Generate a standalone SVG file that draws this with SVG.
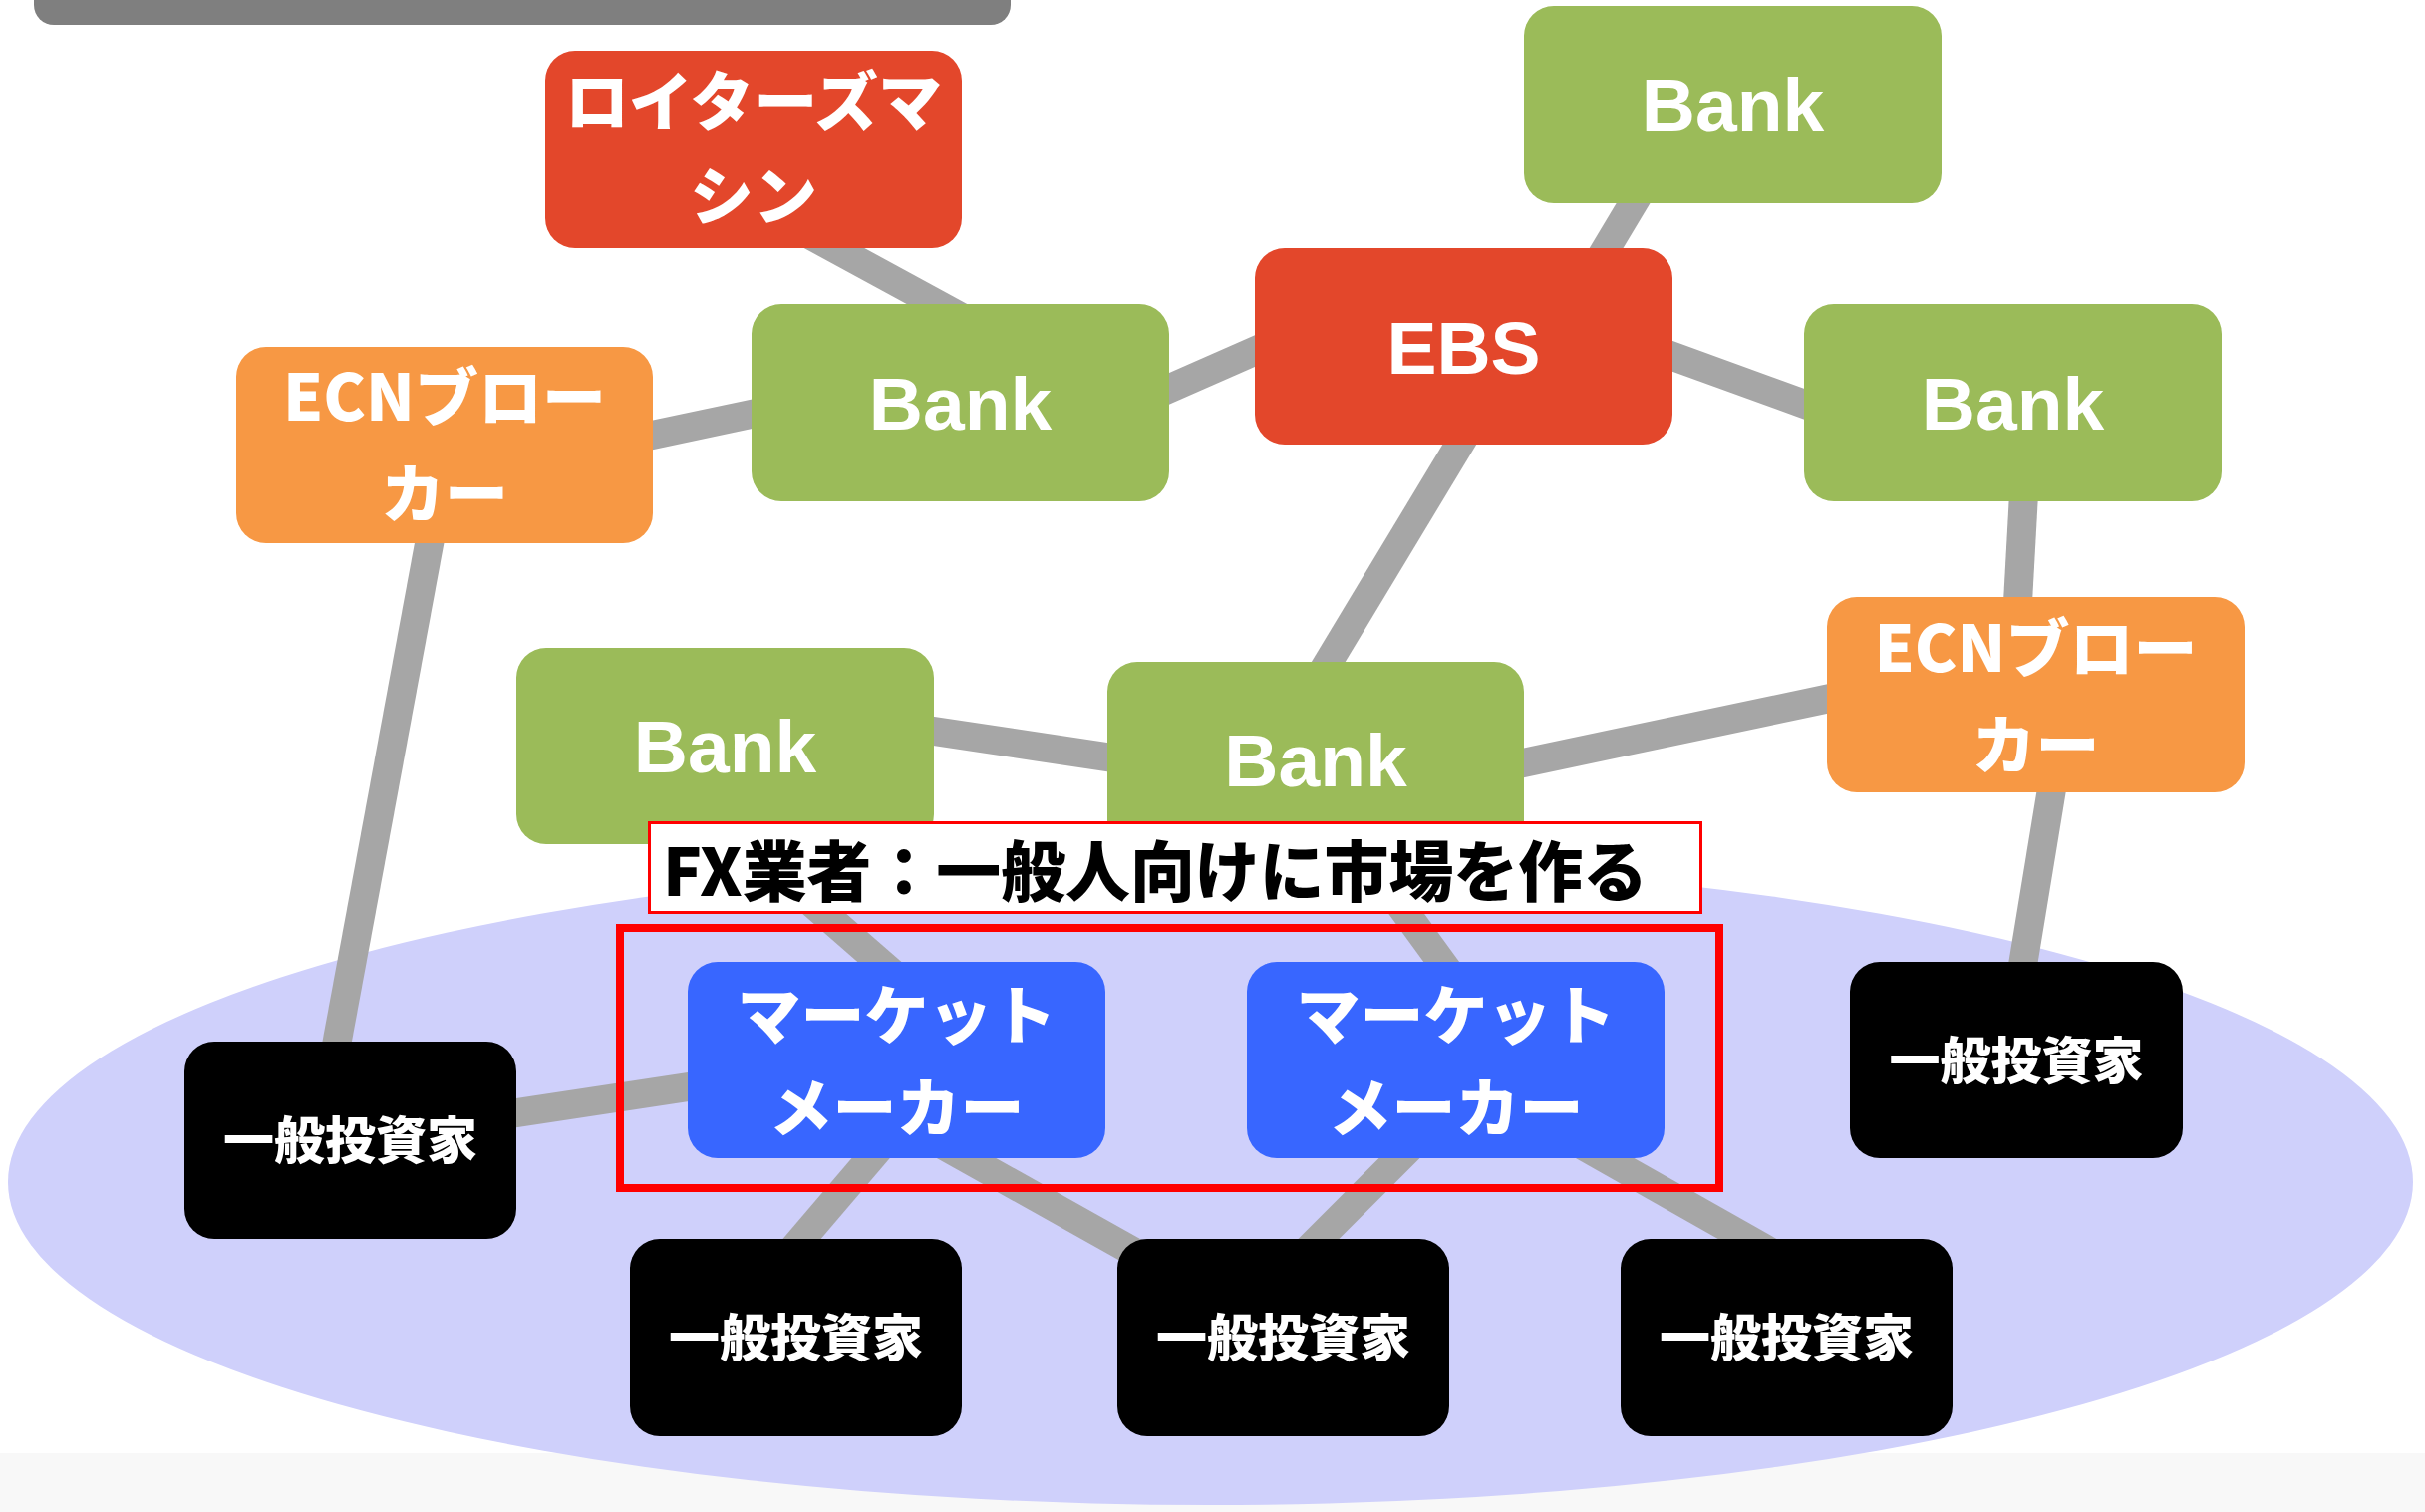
<svg xmlns="http://www.w3.org/2000/svg" width="2433" height="1517" viewBox="0 0 2433 1517">
<style>
.box{stroke:none}
.red{fill:#E3472B}
.green{fill:#9BBB59}
.orange{fill:#F79844}
.blue{fill:#3866FF}
.black{fill:#000000}
.lat{font-family:"Liberation Sans","Noto Sans CJK JP",sans-serif;font-weight:bold;font-size:75px;fill:#FFFFFF;text-anchor:middle}
.jp{font-family:"Noto Sans CJK JP",sans-serif;font-weight:900;font-size:64px;fill:#FFFFFF;text-anchor:middle}
.inv{font-family:"Noto Sans CJK JP",sans-serif;font-weight:900;font-size:51px;fill:#FFFFFF;text-anchor:middle}
.lbl{font-family:"Noto Sans CJK JP",sans-serif;font-weight:900;font-size:66px;fill:#000000}
#connectors line{stroke:#A6A6A6;stroke-width:29;stroke-linecap:butt}
</style>
<rect x="0" y="0" width="2433" height="1517" fill="#FFFFFF"/>
<rect x="0" y="1458" width="2433" height="59" fill="#F8F8F8"/>
<ellipse id="public-area" cx="1214.5" cy="1186" rx="1206.5" ry="324" fill="#CFD0FB"/>
<rect id="top-bar" x="34" y="-40" width="980" height="65" rx="20" fill="#7F7F7F"/>
<g id="connectors">
<line x1="747" y1="200" x2="1041" y2="360"/>
<line x1="600" y1="448" x2="850" y2="395"/>
<line x1="1100" y1="422" x2="1350" y2="312"/>
<line x1="1671" y1="150" x2="1581" y2="300"/>
<line x1="1600" y1="329" x2="1900" y2="438"/>
<line x1="1492" y1="400" x2="1299" y2="720"/>
<line x1="2033" y1="450" x2="2022" y2="650"/>
<line x1="1450" y1="782" x2="1900" y2="687"/>
<line x1="880" y1="725" x2="1180" y2="770"/>
<line x1="439" y1="500" x2="328" y2="1100"/>
<line x1="450" y1="1127" x2="760" y2="1080"/>
<line x1="693" y1="800" x2="934" y2="1010"/>
<line x1="1326" y1="800" x2="1479" y2="1010"/>
<line x1="918" y1="1110" x2="756" y2="1300"/>
<line x1="859" y1="1100" x2="1216" y2="1300"/>
<line x1="1456" y1="1110" x2="1266" y2="1300"/>
<line x1="1536" y1="1120" x2="1836" y2="1290"/>
<line x1="2067" y1="740" x2="2021" y2="1020"/>
</g>
<g id="reuters">
<rect class="box red" x="547" y="51" width="418" height="198" rx="30"/>
<text class="jp" x="756" y="125">ロイターズマ</text>
<text class="jp" x="756" y="220">シン</text>
</g>
<g id="bank1">
<rect class="box green" x="754" y="305" width="419" height="198" rx="30"/>
<text class="lat" x="963.5" y="431">Bank</text>
</g>
<g id="ecn-left">
<rect class="box orange" x="237" y="348" width="418" height="197" rx="30"/>
<text class="jp" x="446" y="422">ECNブロー</text>
<text class="jp" x="446" y="519">カー</text>
</g>
<g id="bank-top">
<rect class="box green" x="1529" y="6" width="419" height="198" rx="30"/>
<text class="lat" x="1738.5" y="131">Bank</text>
</g>
<g id="ebs">
<rect class="box red" x="1259" y="249" width="419" height="197" rx="30"/>
<text class="lat" x="1468.5" y="375">EBS</text>
</g>
<g id="bank-right">
<rect class="box green" x="1810" y="305" width="419" height="198" rx="30"/>
<text class="lat" x="2019.5" y="431">Bank</text>
</g>
<g id="ecn-right">
<rect class="box orange" x="1833" y="599" width="419" height="196" rx="30"/>
<text class="jp" x="2042.5" y="674">ECNブロー</text>
<text class="jp" x="2042.5" y="771">カー</text>
</g>
<g id="bank-left-lower">
<rect class="box green" x="518" y="650" width="419" height="197" rx="30"/>
<text class="lat" x="727.5" y="775">Bank</text>
</g>
<g id="bank-center">
<rect class="box green" x="1111" y="664" width="418" height="198" rx="30"/>
<text class="lat" x="1320" y="789">Bank</text>
</g>
<g id="investor-left">
<rect class="box black" x="185" y="1045" width="333" height="198" rx="30"/>
<text class="inv" x="351.5" y="1163">一般投資家</text>
</g>
<g id="investor-b1">
<rect class="box black" x="632" y="1243" width="333" height="198" rx="30"/>
<text class="inv" x="798.5" y="1361">一般投資家</text>
</g>
<g id="investor-b2">
<rect class="box black" x="1121" y="1243" width="333" height="198" rx="30"/>
<text class="inv" x="1287.5" y="1361">一般投資家</text>
</g>
<g id="investor-b3">
<rect class="box black" x="1626" y="1243" width="333" height="198" rx="30"/>
<text class="inv" x="1792.5" y="1361">一般投資家</text>
</g>
<g id="investor-right">
<rect class="box black" x="1856" y="965" width="334" height="197" rx="30"/>
<text class="inv" x="2023" y="1083">一般投資家</text>
</g>
<g id="market-maker-1">
<rect class="box blue" x="690" y="965" width="419" height="197" rx="30"/>
<text class="jp" x="899.5" y="1042">マーケット</text>
<text class="jp" x="899.5" y="1135">メーカー</text>
</g>
<g id="market-maker-2">
<rect class="box blue" x="1251" y="965" width="419" height="197" rx="30"/>
<text class="jp" x="1460.5" y="1042">マーケット</text>
<text class="jp" x="1460.5" y="1135">メーカー</text>
</g>
<g id="fx-label">
<rect x="651.5" y="825.5" width="1055" height="90" fill="#FFFFFF" stroke="#FF0000" stroke-width="3"/>
<text class="lbl" x="665" y="899" textLength="988" lengthAdjust="spacingAndGlyphs">FX業者：一般人向けに市場を作る</text>
</g>
<rect id="fx-frame" x="622" y="931" width="1103" height="261" fill="none" stroke="#FF0000" stroke-width="8"/>
</svg>
